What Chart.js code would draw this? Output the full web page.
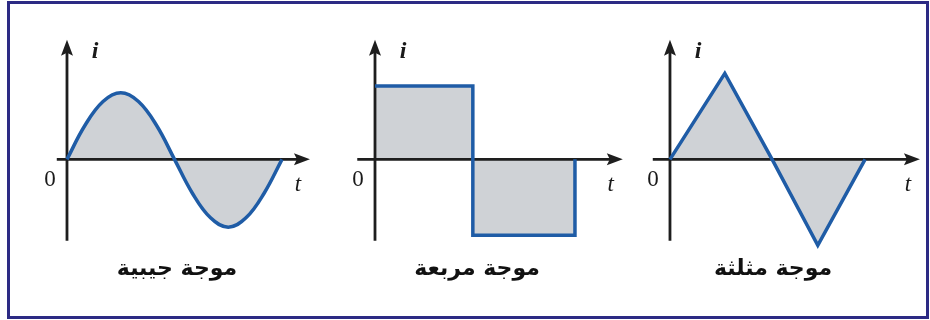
<!DOCTYPE html>
<html>
<head>
<meta charset="utf-8">
<script src="https://cdn.jsdelivr.net/npm/chart.js@4"></script>
<style>
  body { margin: 0; background: #fff; }
  #frame { position: absolute; left: 7px; top: 1px; width: 922px; height: 318px; box-sizing: border-box; border: 3px solid #2c2a84; }
  .panel { position: absolute; top: 0; width: 300px; height: 320px; }
</style>
</head>
<body>
<div id="frame"></div>
<div class="panel" style="left:27px"><canvas id="sine" width="300" height="320"></canvas></div>
<div class="panel" style="left:327px"><canvas id="square" width="300" height="320"></canvas></div>
<div class="panel" style="left:623px"><canvas id="triangle" width="300" height="320"></canvas></div>
<script>
// time in quarter periods of the sine wave, current in sine amplitudes
var sineT = [0, 0.33, 0.67, 1, 1.33, 1.67, 2, 2.33, 2.67, 3, 3.33, 3.67, 4];
var sineI = [0, 0.5, 0.86, 0.99, 0.86, 0.5, 0, -0.5, -0.87, -1.01, -0.87, -0.5, 0];
var squareT = [0, 1.82, 1.82, 3.72, 3.72];
var squareI = [1.09, 1.09, -1.13, -1.13, 0];
var triT = [0, 1.02, 1.90, 2.75, 3.63];
var triI = [0, 1.28, 0, -1.28, 0];
var waveNames = ['موجة جيبية', 'موجة مربعة', 'موجة مثلثة'];
var axisLabels = ['i', '0', 't'];

function points(ts, is) {
    return ts.map(function (t, k) { return {x: t, y: is[k]}; });
}

var waveAxes = {
    id: 'waveAxes',
    beforeDatasetsDraw: function (chart, args, opts) {
        var ctx = chart.ctx, x = chart.scales.x, y = chart.scales.y;
        var x0 = x.getPixelForValue(0), y0 = y.getPixelForValue(0);
        var xa = x.getPixelForValue(opts.xFrom), xb = x.getPixelForValue(opts.xTo);
        var ya = y.getPixelForValue(opts.yFrom), yb = y.getPixelForValue(opts.yTo);
        ctx.save();
        ctx.strokeStyle = '#1e1e1e';
        ctx.fillStyle = '#1e1e1e';
        ctx.lineWidth = 2.8;
        ctx.beginPath();
        ctx.moveTo(xa, y0); ctx.lineTo(xb - 10, y0);
        ctx.moveTo(x0, ya); ctx.lineTo(x0, yb + 10);
        ctx.stroke();
        // arrow heads
        ctx.beginPath();
        ctx.moveTo(xb, y0); ctx.lineTo(xb - 16, y0 - 6); ctx.lineTo(xb - 13, y0); ctx.lineTo(xb - 16, y0 + 6);
        ctx.closePath(); ctx.fill();
        ctx.beginPath();
        ctx.moveTo(x0, yb); ctx.lineTo(x0 - 6, yb + 16); ctx.lineTo(x0, yb + 13); ctx.lineTo(x0 + 6, yb + 16);
        ctx.closePath(); ctx.fill();
        ctx.restore();
    },
    afterDatasetsDraw: function (chart, args, opts) {
        var ctx = chart.ctx, x = chart.scales.x, y = chart.scales.y;
        var x0 = x.getPixelForValue(0), y0 = y.getPixelForValue(0);
        var xb = x.getPixelForValue(opts.xTo), yb = y.getPixelForValue(opts.yTo);
        ctx.save();
        ctx.fillStyle = '#1a1a1a';
        ctx.textAlign = 'center';
        ctx.textBaseline = 'middle';
        ctx.font = 'italic bold 24px "Liberation Serif"';
        ctx.fillText(axisLabels[0], x0 + 28, yb + 12);
        ctx.font = '23px "Liberation Serif"';
        ctx.fillText(axisLabels[1], x0 - 17, y0 + 21);
        ctx.font = 'italic 23px "Liberation Serif"';
        ctx.fillText(axisLabels[2], xb - 12, y0 + 26);
        ctx.restore();
    }
};

function makeWave(id, data, name, tension, xMin, xMax, xFrom, xTo) {
    return new Chart(document.getElementById(id), {
        type: 'line',
        data: {
            datasets: [{
                data: data,
                borderColor: '#1f5ca6',
                borderWidth: 3.5,
                backgroundColor: '#cfd2d6',
                fill: 'origin',
                tension: tension,
                pointRadius: 0,
                clip: false
            }]
        },
        options: {
            responsive: false,
            animation: false,
            layout: { padding: { top: 30, bottom: 30, left: 0, right: 0 } },
            plugins: {
                legend: { display: false },
                tooltip: { enabled: false },
                filler: { drawTime: 'beforeDatasetsDraw' },
                title: {
                    display: true,
                    position: 'bottom',
                    text: name,
                    color: '#111',
                    font: { family: '"DejaVu Sans"', size: 22, weight: 'bold', lineHeight: 1.2 },
                    padding: { top: 7, bottom: 8 }
                },
                waveAxes: { xFrom: xFrom, xTo: xTo, yFrom: -1.21, yTo: 1.78 }
            },
            scales: {
                x: { type: 'linear', display: false, min: xMin, max: xMax },
                y: { display: false, min: -1.328, max: 1.925 }
            }
        },
        plugins: [waveAxes]
    });
}

makeWave('sine', points(sineT, sineI), waveNames[0], 0.4, -0.744, 4.837, -0.19, 4.52);
makeWave('square', points(squareT, squareI), waveNames[1], 0, -0.893, 4.688, -0.33, 4.61);
makeWave('triangle', points(triT, triI), waveNames[2], 0, -0.874, 4.707, -0.32, 4.65);
</script>
</body>
</html>
